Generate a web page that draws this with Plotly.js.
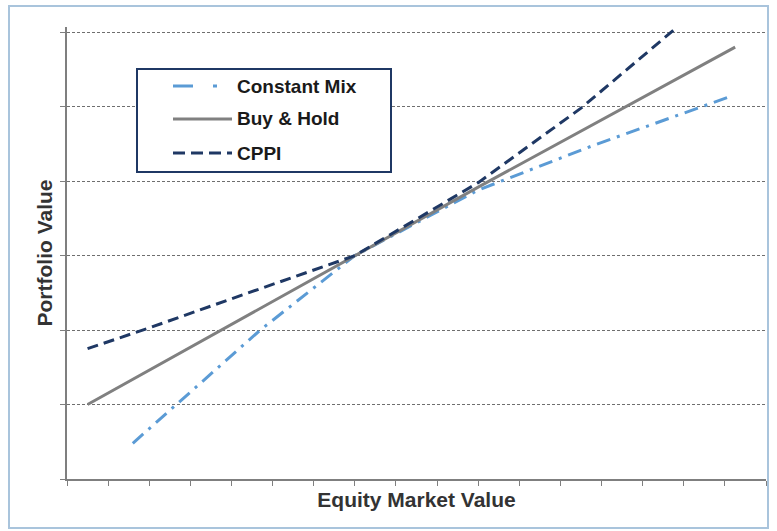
<!DOCTYPE html>
<html><head><meta charset="utf-8">
<script src="https://cdn.plot.ly/plotly-3.0.1.min.js"></script>
<style>html,body{margin:0;padding:0;background:#fff}#chart{width:777px;height:531px}</style>
</head><body><div id="chart"></div>
<script>
// Data (x: equity market value units, y: portfolio value units)
const cmX = [1.6, 2.7, 4.7, 7.0, 10.0, 12.8, 16.2];
const cmY = [0.48, 1.02, 2.0, 3.0, 3.88, 4.48, 5.15];
const bhX = [0.5, 7.0, 10.0, 16.25];
const bhY = [1.0, 3.0, 3.92, 5.8];
const cpX = [0.5, 2.0, 4.0, 7.0, 10.0, 12.5, 14.8];
const cpY = [1.75, 2.03, 2.42, 3.0, 3.98, 4.98, 6.05];
const names = ["Constant Mix", "Buy & Hold", "CPPI"];
const colors = ["#5b9bd5", "#808080", "#1f3864"];
const dashes = ["14px,7px,3px,7px", "solid", "11px,6px"];

const font = "Liberation Sans, Arial, sans-serif";
const W = 777, H = 531, L = 67, R = 11, T = 27, B = 52;
const pw = W - L - R, ph = H - T - B;
const px = v => (v - L) / pw;          // pixel -> paper x (layout helper)
const py = v => (H - B - v) / ph;      // pixel -> paper y (layout helper)

const traces = [
  {x: cmX, y: cmY, name: names[0], mode: "lines", line: {color: colors[0], width: 3, dash: dashes[0]}},
  {x: bhX, y: bhY, name: names[1], mode: "lines", line: {color: colors[1], width: 3, dash: dashes[1]}},
  {x: cpX, y: cpY, name: names[2], mode: "lines", line: {color: colors[2], width: 3, dash: dashes[2]}}
];

// hand-built legend (box, samples, labels)
const rowY = [86, 119, 153];
const sampleDash = ["20px,20px,4px,30px", "solid", "12px,6px"];
const shapes = [
  {type: "rect", xref: "paper", yref: "paper", layer: "below",
   x0: px(9), x1: px(768), y0: py(528), y1: py(6), line: {color: "#a9c4dc", width: 2}},
  {type: "rect", xref: "paper", yref: "paper", layer: "above", fillcolor: "#fff",
   x0: px(137), x1: px(391), y0: py(172), y1: py(69), line: {color: "#1f3864", width: 2}}
];
const annotations = [];
for (let i = 0; i < 3; i++) {
  shapes.push({type: "line", xref: "paper", yref: "paper", layer: "above",
    x0: px(173), x1: px(i === 0 ? 221 : 232), y0: py(rowY[i]), y1: py(rowY[i]),
    line: {color: colors[i], width: 3, dash: sampleDash[i]}});
  annotations.push({xref: "paper", yref: "paper", x: px(235), y: py(rowY[i]),
    xanchor: "left", yanchor: "middle", showarrow: false, text: "<b>" + names[i] + "</b>",
    font: {family: font, size: 19, color: "#1a1a1a"}});
}

const layout = {
  width: W, height: H,
  margin: {l: L, r: R, t: T, b: B},
  paper_bgcolor: "#fff", plot_bgcolor: "#fff",
  font: {family: font, color: "#262626"},
  showlegend: false,
  xaxis: {range: [0, 17], dtick: 1, tick0: 0, showgrid: false, zeroline: false,
    showline: true, linecolor: "#7f7f7f", linewidth: 2, ticks: "outside",
    ticklen: 5, tickcolor: "#7f7f7f", showticklabels: false, fixedrange: true,
    title: {text: "<b>Equity Market Value</b>", font: {family: font, size: 21, color: "#333"}, standoff: 7}},
  yaxis: {range: [0, 6.07], dtick: 1, tick0: 0, showgrid: true, gridcolor: "#6f6f6f",
    griddash: "3px,2px", gridwidth: 1, zeroline: false, showline: true,
    linecolor: "#7f7f7f", linewidth: 2, ticks: "outside", ticklen: 5,
    tickcolor: "#7f7f7f", showticklabels: false, fixedrange: true,
    title: {text: "<b>Portfolio Value</b>", font: {family: font, size: 21, color: "#333"}, standoff: 2}},
  shapes: shapes,
  annotations: annotations
};
Plotly.newPlot("chart", traces, layout, {displayModeBar: false, staticPlot: true});
</script></body></html>
